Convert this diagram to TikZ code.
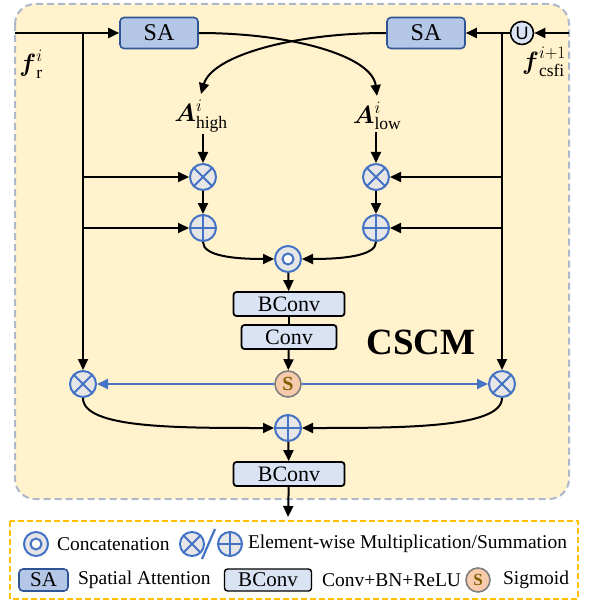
\RequirePackage{fix-cm}
\documentclass[tikz,border=0pt]{standalone}
\usepackage{amsmath,amssymb}
\usepackage{fontspec}
\setmainfont{Liberation Serif}
\newfontfamily\sansu{Liberation Sans}
\usepackage{xcolor}
\usepackage{tikz}
\usetikzlibrary{arrows.meta}
\definecolor{jaunef}{RGB}{255,242,204}
\definecolor{grisb}{RGB}{173,185,202}
\definecolor{bleusa}{RGB}{47,85,151}
\definecolor{bleusaf}{RGB}{180,199,231}
\definecolor{bleuc}{RGB}{218,227,243}
\definecolor{bleuop}{RGB}{68,114,196}
\definecolor{grisc}{RGB}{231,230,230}
\definecolor{saumon}{RGB}{248,203,173}
\definecolor{grism}{RGB}{127,127,127}
\definecolor{ocre}{RGB}{127,96,0}
\definecolor{orl}{RGB}{255,192,0}

\begin{document}
\begin{tikzpicture}[x=1pt, y=-1pt, line width=2pt,
  fl/.style={-{Triangle[length=11pt,width=10pt]}},
  fb/.style={fl, draw=bleuop, line width=1.8pt},
  sabox/.style={rectangle, rounded corners=4pt, draw=bleusa, fill=bleusaf, line width=1.6pt,
                minimum width=#1, minimum height=31pt, inner sep=0pt, font=\fontsize{24}{24}\selectfont},
  bcbox/.style={rectangle, rounded corners=3pt, draw=black, fill=bleuc, line width=1.8pt,
                minimum width=#1, minimum height=24pt, inner sep=0pt, font=\fontsize{22}{22}\selectfont},
  op/.style={circle, draw=bleuop, fill=grisc, line width=2pt, minimum size=26pt, inner sep=0pt},
  opmul/.style={op, path picture={\draw[bleuop, line width=2pt]
      (path picture bounding box.north west) -- (path picture bounding box.south east)
      (path picture bounding box.north east) -- (path picture bounding box.south west);}},
  opadd/.style={op, path picture={\draw[bleuop, line width=2pt]
      (path picture bounding box.north) -- (path picture bounding box.south)
      (path picture bounding box.west) -- (path picture bounding box.east);}},
  opcat/.style={op, path picture={\draw[bleuop, line width=2pt, fill=white]
      (path picture bounding box.center) circle (5.5pt);}},
  sig/.style={circle, draw=grism, fill=saumon, line width=1.6pt, minimum size=26pt, inner sep=0pt,
              text=ocre, font=\fontsize{20}{20}\selectfont\bfseries},
  un/.style={circle, draw=black, fill=bleuc, line width=1.6pt, minimum size=23pt, inner sep=0pt,
             font=\fontsize{18}{18}\selectfont\sansu},
  lab/.style={inner sep=1pt, font=\fontsize{25}{27}\selectfont},
  lt/.style={anchor=west, inner sep=0pt, font=\fontsize{19.5}{20}\selectfont}]
\useasboundingbox (0,0) rectangle (588,604);
\draw[grisb, dash pattern=on 7pt off 4pt, fill=jaunef, rounded corners=20pt] (15,4) rectangle (569,499);
\draw[orl, dash pattern=on 6pt off 3pt] (10,521) rectangle (578,599);

\node[sabox=78pt] (saL) at (159,33) {SA};
\node[sabox=78pt] (saR) at (426,33) {SA};
\node[un] (uu) at (522,33) {U};
\node[lab] (fr) at (31,64) {$\boldsymbol{f}^{i}_{\mathrm{r}}$};
\node[lab] (fc) at (544,62) {$\boldsymbol{f}^{i+1}_{\mathrm{csfi}}$};
\node[lab] (ahigh) at (201,116) {$\boldsymbol{A}^{i}_{\mathrm{high}}$};
\node[lab] (alow) at (377,116) {$\boldsymbol{A}^{i}_{\mathrm{low}}$};
\node[opmul] (xh) at (203,177) {};
\node[opmul] (xl) at (376,177) {};
\node[opadd] (ph) at (203,228) {};
\node[opadd] (pl) at (376,228) {};
\node[opcat] (cat) at (288,259) {};
\node[bcbox=111pt] (bc1) at (289,304) {BConv};
\node[bcbox=95pt] (cv) at (289,337) {Conv};
\node[sig] (sg) at (288,384) {S};
\node[opmul] (mL) at (83,384) {};
\node[opmul] (mR) at (502,384) {};
\node[opadd] (pb) at (288,428) {};
\node[bcbox=111pt] (bc2) at (289,474) {BConv};
\node[font=\fontsize{37}{37}\selectfont\bfseries] (nom) at (421,342) {CSCM};
\coordinate (inL) at (15,33);
\coordinate (inR) at (569,33);
\coordinate (jL) at (83,33);
\coordinate (jR) at (502,33);
\coordinate (sortie) at (288,517);

\draw[fl] (inL) -- (saL.west);
\draw[fl] (jL) -- (mL.north);
\draw[fl] (jL |- xh) -- (xh.west);
\draw[fl] (jL |- ph) -- (ph.west);
\draw[fl] (inR) -- (uu.east);
\draw[fl] (uu.west) -- (saR.east);
\draw[fl] (jR) -- (mR.north);
\draw[fl] (jR |- xl) -- (xl.east);
\draw[fl] (jR |- pl) -- (pl.east);
\draw[fl] (saL.east) .. controls (292,33) and (372,56) .. ([yshift=4pt]alow.north);
\draw[fl] (saR.west) .. controls (292,33) and (212,56) .. ([yshift=4pt]ahigh.north);
\draw[fl] (xh |- ahigh.south) -- (xh.north);
\draw[fl] (xl |- alow.south) -- (xl.north);
\draw[fl] (xh) -- (ph);
\draw[fl] (xl) -- (pl);
\draw[fl] (ph.south) .. controls +(0,14) and +(-40,0) .. (cat.west);
\draw[fl] (pl.south) .. controls +(0,14) and +(40,0) .. (cat.east);
\draw[fl] (cat) -- (bc1);
\draw (bc1) -- (cv);
\draw[fl] (cv) -- (sg);
\draw[fb] (sg) -- (mL);
\draw[fb] (sg) -- (mR);
\draw[fl] (mL.south) .. controls +(0,30) and +(-100,0) .. (pb.west);
\draw[fl] (mR.south) .. controls +(0,30) and +(100,0) .. (pb.east);
\draw[fl] (pb) -- (bc2);
\draw[fl] (bc2) -- (sortie);

\node[opcat, minimum size=24pt] (lcat) at (36,544) {};
\node[lt] (tcat) at (56,544) {Concatenation};
\node[opmul, minimum size=24pt] (lmul) at (192,544) {};
\draw[bleuop, line width=2.2pt] (202,559) -- (215,529);
\node[opadd, minimum size=24pt] (ladd) at (230,544) {};
\node[lt] (tmul) at (247,544) {Element-wise Multiplication/Summation};
\node[sabox=49pt, minimum height=22pt, font=\fontsize{21}{21}\selectfont] (lsa) at (43.5,580) {SA};
\node[lt] (tsa) at (77,580) {Spatial Attention};
\node[bcbox=87pt, minimum height=22pt, line width=1.4pt, font=\fontsize{21}{21}\selectfont] (lbc) at (268,580) {BConv};
\node[lt] (tbc) at (321,580) {Conv+BN+ReLU};
\node[sig, minimum size=24pt, font=\fontsize{17}{17}\selectfont\bfseries] (lsig) at (478,580) {S};
\node[lt] (tsig) at (502,580) {Sigmoid};
\end{tikzpicture}
\end{document}
